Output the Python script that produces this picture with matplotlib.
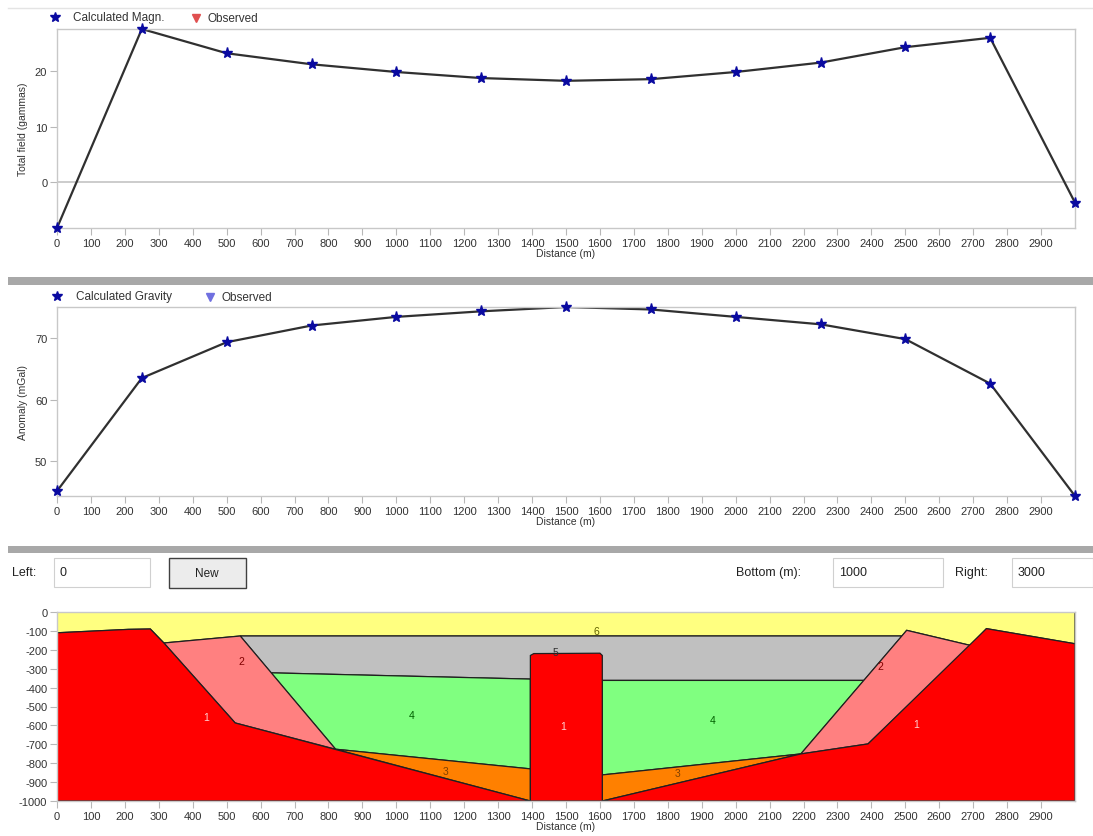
import matplotlib
matplotlib.use("Agg")
import matplotlib.pyplot as plt
from matplotlib.lines import Line2D
from matplotlib.patches import Rectangle

plt.rcParams['font.family'] = ['Liberation Sans', 'DejaVu Sans']
plt.rcParams['axes.unicode_minus'] = False

# ---------------- data ----------------
stations = [0, 250, 500, 750, 1000, 1250, 1500, 1750, 2000, 2250, 2500, 2750, 3000]
mag_calc = [-8.4, 27.7, 23.3, 21.3, 19.9, 18.8, 18.3, 18.6, 19.9, 21.6, 24.4, 26.1, -3.8]
grav_calc = [45.2, 63.5, 69.3, 72.0, 73.4, 74.3, 75.0, 74.6, 73.4, 72.2, 69.8, 62.6, 44.4]

x_ticks = [0, 100, 200, 300, 400, 500, 600, 700, 800, 900, 1000, 1100, 1200, 1300, 1400,
           1500, 1600, 1700, 1800, 1900, 2000, 2100, 2200, 2300, 2400, 2500, 2600, 2700,
           2800, 2900]
mag_ticks = [0, 10, 20]
grav_ticks = [50, 60, 70]
depth_ticks = [0, -100, -200, -300, -400, -500, -600, -700, -800, -900, -1000]

# model bodies (distance m, depth m)
body6_x = [0, 3000, 3000, 2739, 2692, 2504, 2490, 540, 315, 275, 210, 0]
body6_z = [0, 0, -168, -88, -177, -97, -127, -127, -164, -90, -92, -110]
body5_x = [540, 2490, 2378, 1607, 1500, 1395, 631]
body5_z = [-127, -127, -362, -362, -360, -355, -322]
body4_left_x = [631, 1395, 1395, 821]
body4_left_z = [-322, -355, -830, -726]
body4_right_x = [1607, 2378, 2192, 1607]
body4_right_z = [-362, -362, -751, -862]
body3_left_x = [821, 1395, 1395]
body3_left_z = [-726, -830, -1000]
body3_right_x = [1607, 2192, 1607]
body3_right_z = [-862, -751, -1000]
body2_left_x = [315, 540, 821, 525]
body2_left_z = [-164, -127, -726, -587]
body2_right_x = [2192, 2504, 2692, 2390]
body2_right_z = [-751, -97, -177, -698]
body1_left_x = [0, 210, 275, 315, 525, 1395, 0]
body1_left_z = [-110, -92, -90, -164, -587, -1000, -1000]
body1_center_x = [1395, 1395, 1405, 1600, 1607, 1607]
body1_center_z = [-1000, -230, -220, -218, -230, -1000]
body1_right_x = [1607, 2192, 2390, 2739, 3000, 3000]
body1_right_z = [-1000, -751, -698, -88, -168, -1000]

body_labels = ['6', '5', '4', '4', '3', '3', '2', '2', '1', '1', '1']
label_x = [1590, 1470, 1044, 1933, 1144, 1830, 543, 2425, 440, 1493, 2531]
label_z = [-100, -210, -547, -574, -842, -853, -258, -284, -553, -605, -590]

# ---------------- styles ----------------
W, H = 1093, 837
def fx(px):
    return px / W
def fy(py):
    return 1 - py / H

C_YEL, C_GRY, C_GRN = '#ffff80', '#c0c0c0', '#80ff80'
C_ORG, C_PNK, C_RED = '#ff8000', '#ff8080', '#ff0000'
label_colors = ['#606000', '#303030', '#006000', '#006000', '#804000', '#804000',
                '#800000', '#800000', '#ffd0d0', '#ffd0d0', '#ffd0d0']

fig = plt.figure(figsize=(W / 100, H / 100), dpi=100)
fig.patch.set_facecolor('white')

L, R = 57, 1075
def add_ax(top, bottom):
    return fig.add_axes([fx(L), fy(bottom), (R - L) / W, (bottom - top) / H])

def style_ax(ax):
    for s in ax.spines.values():
        s.set_color('#c8c8c8')
        s.set_linewidth(1.0)
    ax.tick_params(axis='both', colors='#b8b8b8', labelcolor='#333333',
                   labelsize=8, length=5, width=0.8, pad=2)
    ax.set_xlim(0, 3000)
    ax.set_xticks(x_ticks)
    ax.set_xlabel('Distance (m)', fontsize=7.5, color='#333333', labelpad=0)

# top panel
ax1 = add_ax(30, 229)
style_ax(ax1)
ax1.axhline(0, color='#c4c4c4', lw=1.2, zorder=1)
ax1.plot(stations, mag_calc, color='#303030', lw=1.6, zorder=2)
ax1.plot(stations, mag_calc, ls='none', marker='*', ms=8, color='#0a0aa0',
         mec='#0a0aa0', zorder=3, clip_on=False)
ax1.set_ylim(-8.4, 27.7)
ax1.set_yticks(mag_ticks)
ax1.set_ylabel('Total field (gammas)', fontsize=7.5, color='#333333')
ax1.yaxis.set_label_coords(-0.028, 0.5)

# middle panel
ax2 = add_ax(308, 497)
style_ax(ax2)
ax2.plot(stations, grav_calc, color='#303030', lw=1.6, zorder=2)
ax2.plot(stations, grav_calc, ls='none', marker='*', ms=8, color='#0a0aa0',
         mec='#0a0aa0', zorder=3, clip_on=False)
ax2.set_ylim(44.4, 75.0)
ax2.set_yticks(grav_ticks)
ax2.set_ylabel('Anomaly (mGal)', fontsize=7.5, color='#333333')
ax2.yaxis.set_label_coords(-0.028, 0.5)

# bottom panel: model
ax3 = add_ax(613, 802)
style_ax(ax3)
ax3.set_ylim(-1000, 0)
ax3.set_yticks(depth_ticks)
ek = dict(edgecolor='#202020', linewidth=0.9)
ax3.fill(body6_x, body6_z, facecolor=C_YEL, **ek)
ax3.fill(body5_x, body5_z, facecolor=C_GRY, **ek)
ax3.fill(body4_left_x, body4_left_z, facecolor=C_GRN, **ek)
ax3.fill(body4_right_x, body4_right_z, facecolor=C_GRN, **ek)
ax3.fill(body3_left_x, body3_left_z, facecolor=C_ORG, **ek)
ax3.fill(body3_right_x, body3_right_z, facecolor=C_ORG, **ek)
ax3.fill(body2_left_x, body2_left_z, facecolor=C_PNK, **ek)
ax3.fill(body2_right_x, body2_right_z, facecolor=C_PNK, **ek)
ax3.fill(body1_left_x, body1_left_z, facecolor=C_RED, **ek)
ax3.fill(body1_center_x, body1_center_z, facecolor=C_RED, **ek)
ax3.fill(body1_right_x, body1_right_z, facecolor=C_RED, **ek)
for t, x, z, c in zip(body_labels, label_x, label_z, label_colors):
    ax3.text(x, z, t, fontsize=7.5, color=c, ha='center', va='center')

# ---------------- legends ----------------
def legend_item(xm, y, marker, color, text, xt):
    fig.add_artist(Line2D([fx(xm)], [fy(y)], marker=marker, ms=7 if marker == '*' else 6,
                          color=color, mec=color, ls='none', transform=fig.transFigure))
    fig.text(fx(xt), fy(y), text, fontsize=8.5, color='#333333', va='center', ha='left')

legend_item(55, 18, '*', '#0a0aa0', 'Calculated Magn.', 73)
legend_item(196, 19, 'v', '#e05050', 'Observed', 207)
legend_item(57, 297, '*', '#0a0aa0', 'Calculated Gravity', 76)
legend_item(210, 298, 'v', '#7070e0', 'Observed', 222)

# ---------------- window chrome ----------------
def rect(x0, y0, x1, y1, fc, ec='none', lw=0.0):
    fig.add_artist(Rectangle((fx(x0), fy(y1)), (x1 - x0) / W, (y1 - y0) / H,
                             facecolor=fc, edgecolor=ec, linewidth=lw,
                             transform=fig.transFigure))

fig.add_artist(Line2D([fx(8), fx(1093)], [fy(9), fy(9)], color='#e4e4e4', lw=1,
                      transform=fig.transFigure))
rect(8, 278, 1093, 286, '#a8a8a8')
rect(8, 547, 1093, 554, '#a8a8a8')

fig.text(fx(12), fy(573), 'Left:', fontsize=9, color='#222222', va='center')
rect(54, 559, 150, 588, 'white', '#d0d0d0', 0.8)
fig.text(fx(60), fy(573), '0', fontsize=9, color='#222222', va='center')

rect(169, 559, 246, 589, '#ececec', '#404040', 1.0)
fig.text(fx(207), fy(574), 'New', fontsize=8.5, color='#222222', va='center', ha='center')

fig.text(fx(736), fy(573), 'Bottom (m):', fontsize=9, color='#222222', va='center')
rect(833, 559, 943, 588, 'white', '#d0d0d0', 0.8)
fig.text(fx(839), fy(573), '1000', fontsize=9, color='#222222', va='center')

fig.text(fx(955), fy(573), 'Right:', fontsize=9, color='#222222', va='center')
rect(1012, 559, 1093, 588, 'white', '#d0d0d0', 0.8)
fig.text(fx(1018), fy(573), '3000', fontsize=9, color='#222222', va='center')

fig.savefig('out.png', dpi=100)
